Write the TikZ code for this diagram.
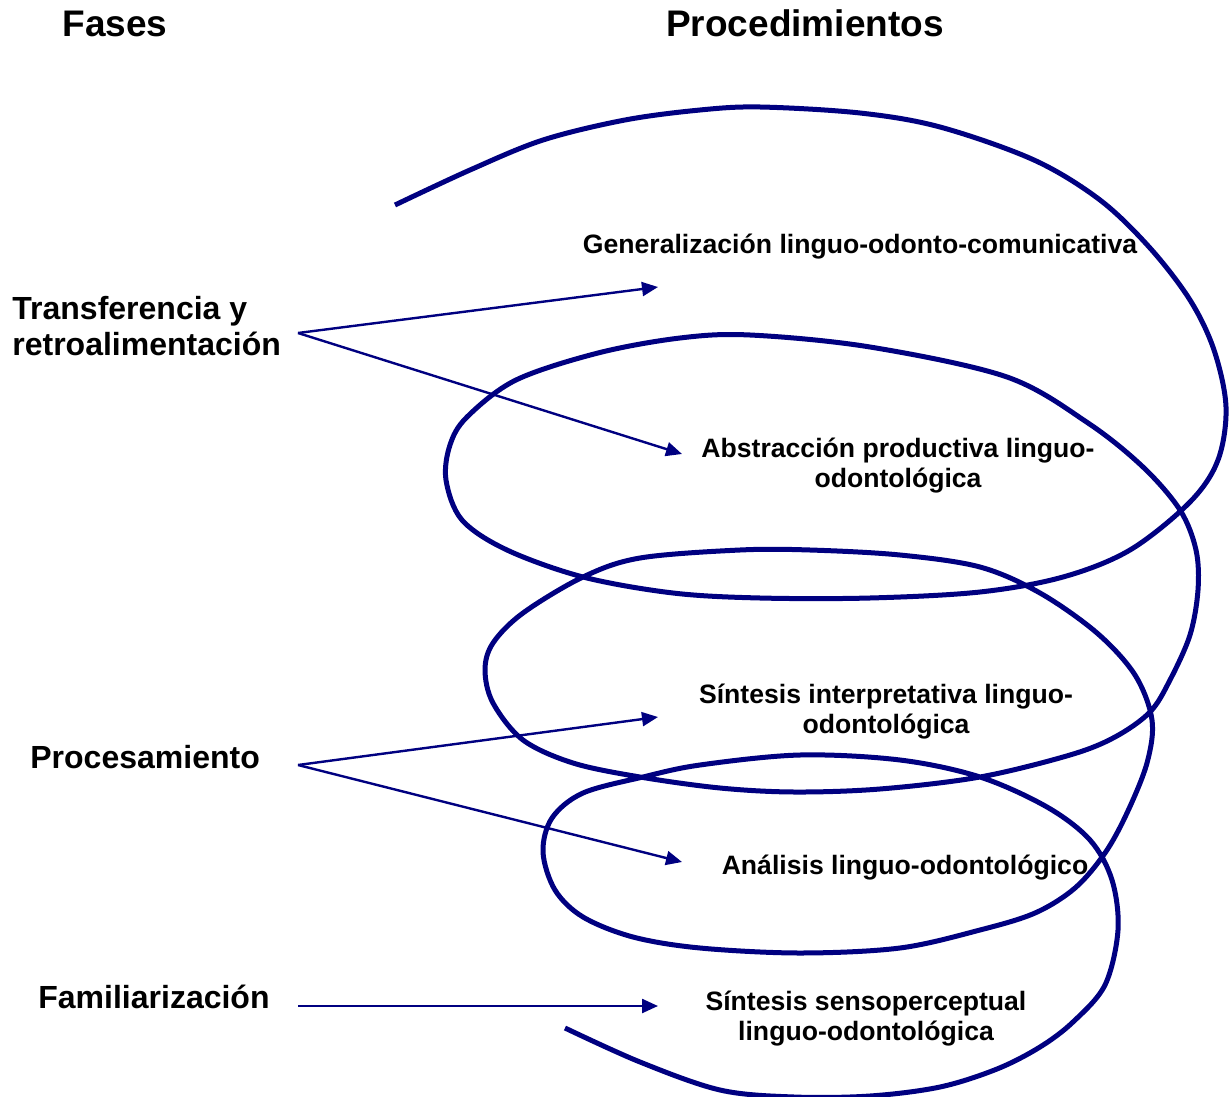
\documentclass[tikz,border=0pt]{standalone}
\usepackage{fontspec}
\setmainfont{Liberation Sans}
\usepackage{xcolor}
\usetikzlibrary{arrows.meta}
\definecolor{azul}{RGB}{0,0,128}

\begin{document}
\begin{tikzpicture}[
		x=0.5pt, y=-0.5pt,
		every node/.style={inner sep=0pt},
		titulo/.style={font=\bfseries\fontsize{18.5}{22}\selectfont, anchor=base},
		fase/.style={font=\bfseries\fontsize{16}{18}\selectfont, anchor=base west, align=left},
		proc/.style={font=\bfseries\fontsize{13.3}{15}\selectfont, anchor=base, align=center},
		flecha/.style={draw=azul, line width=1.2pt, -{Triangle[length=8pt,width=7pt]}},
		espiral/.style={draw=azul, line width=2.5pt}
	]
	\useasboundingbox (0,0) rectangle (1232,1097);

	% spiral
	\draw[espiral] plot[smooth, tension=0.55] coordinates {
		(395,205) (470,170) (543,140) (625,120) (700,110) (760,107) (860,113)
		(940,127) (1034,160) (1100,200) (1150,248) (1190,300) (1214,350)
		(1226,407) (1218,460) (1190,502) (1130,550) (1063,577) (980,592)
		(870,598) (760,598) (673,593) (583,577) (507,550) (462,520) (446,480)
		(450,445) (467,417) (516,380) (598,353) (680,338) (750,335) (870,347)
		(1007,377) (1088,423) (1143,467) (1180,510) (1196,550) (1198,590)
		(1190,635) (1170,680) (1150,712) (1115,737) (1070,755) (980,777)
		(880,789) (794,792) (720,788) (640,777) (573,763) (523,740) (493,703)
		(485,670) (493,643) (523,613) (583,577) (640,558) (740,550) (810,550)
		(900,555) (980,567) (1040,593) (1097,633) (1135,675) (1152,720)
		(1147,763) (1127,813) (1105,853) (1075,888) (1035,913) (980,930)
		(900,948) (800,953) (700,948) (633,937) (583,917) (555,890) (543,852)
		(552,818) (583,793) (643,777) (700,765) (800,755) (900,760) (980,777)
		(1047,807) (1090,840) (1112,880) (1118,930) (1105,985) (1073,1022)
		(1040,1047) (997,1069) (940,1087) (870,1096) (794,1097) (720,1090)
		(640,1062) (565,1028)};

	% headings
	\node[titulo] (F) at (115,37) {Fases};
	\node[titulo] (P) at (805,37) {Procedimientos};

	% phases
	\node[fase] (T) at (12,355) {Transferencia y\\retroalimentación};
	\node[fase] (Pr) at (30,768) {Procesamiento};
	\node[fase] (Fa) at (38,1008) {Familiarización};

	% procedures
	\node[proc] (G) at (860,253) {Generalización linguo-odonto-comunicativa};
	\node[proc] (Ab) at (898,487) {Abstracción productiva linguo-\\odontológica};
	\node[proc] (Si) at (886,733) {Síntesis interpretativa linguo-\\odontológica};
	\node[proc] (An) at (905,874) {Análisis linguo-odontológico};
	\node[proc] (Ss) at (866,1040) {Síntesis sensoperceptual\\linguo-odontológica};

	% arrow ends
	\coordinate (t0) at (298,333);
	\coordinate (t1) at (658,287);
	\coordinate (t2) at (682,454);
	\coordinate (p0) at (298,765);
	\coordinate (p1) at (658,717);
	\coordinate (p2) at (682,862);
	\coordinate (f0) at (298,1006);
	\coordinate (f1) at (658,1006);

	\draw[flecha] (t0) -- (t1);
	\draw[flecha] (t0) -- (t2);
	\draw[flecha] (p0) -- (p1);
	\draw[flecha] (p0) -- (p2);
	\draw[flecha] (f0) -- (f1);
\end{tikzpicture}
\end{document}
